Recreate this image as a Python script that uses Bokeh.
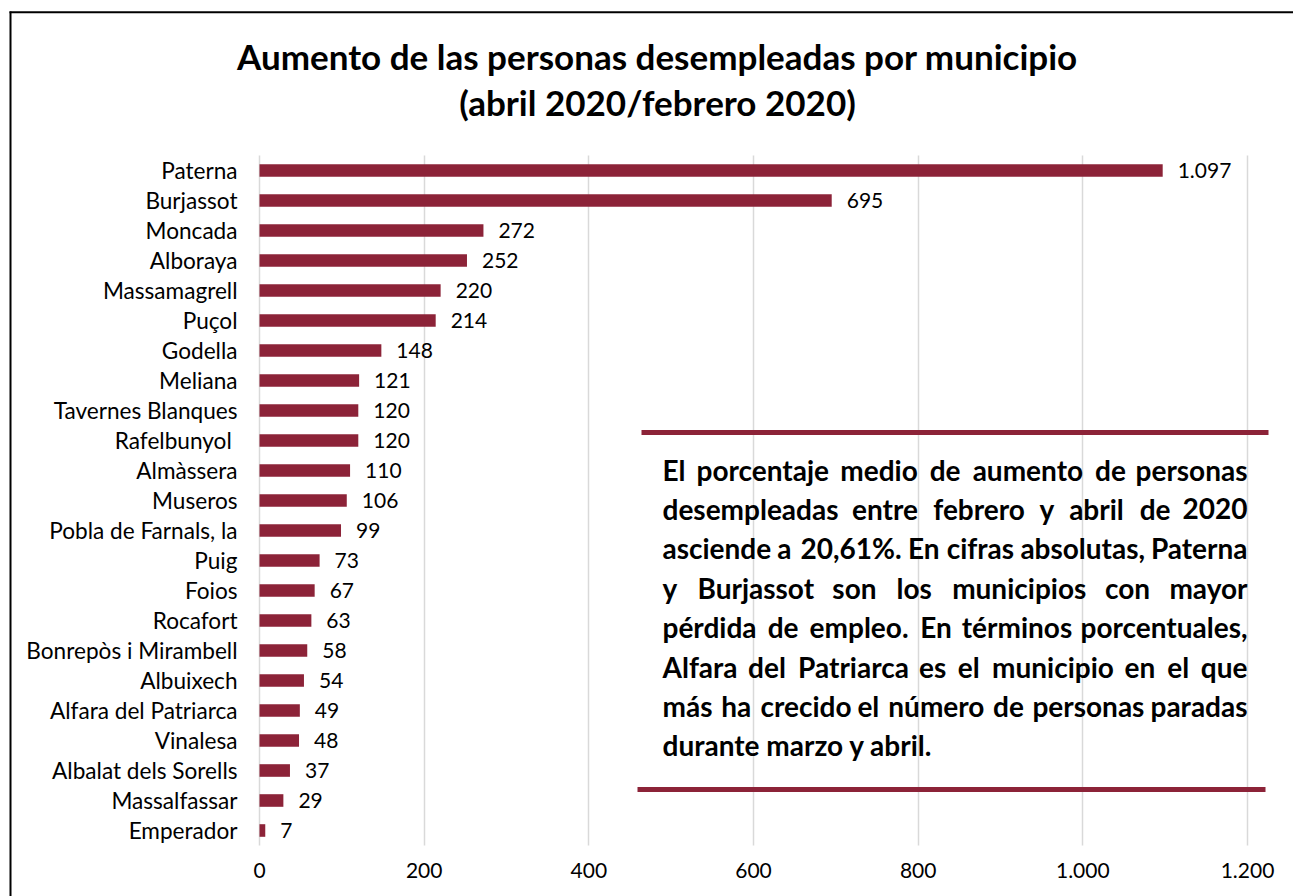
import unicodedata
from bokeh.plotting import figure
from bokeh.models import ColumnDataSource, Range1d, FixedTicker, LabelSet, Label
from bokeh.embed import file_html
from bokeh.resources import INLINE
from bokeh.core.properties import value

# ---------------- data ----------------
municipios = ["Paterna", "Burjassot", "Moncada", "Alboraya", "Massamagrell", "Puçol",
              "Godella", "Meliana", "Tavernes Blanques", "Rafelbunyol ", "Almàssera",
              "Museros", "Pobla de Farnals, la", "Puig", "Foios", "Rocafort",
              "Bonrepòs i Mirambell", "Albuixech", "Alfara del Patriarca", "Vinalesa",
              "Albalat dels Sorells", "Massalfassar", "Emperador"]
aumento = [1097, 695, 272, 252, 220, 214, 148, 121, 120, 120, 110, 106, 99, 73, 67,
           63, 58, 54, 49, 48, 37, 29, 7]
x_ticks = [0, 200, 400, 600, 800, 1000, 1200]
x_tick_labels = ["0", "200", "400", "600", "800", "1.000", "1.200"]
title_lines = ["Aumento de las personas desempleadas por municipio",
               "(abril 2020/febrero 2020)"]
note_lines = [
    "El porcentaje medio de aumento de personas",
    "desempleadas entre febrero y abril de 2020",
    "asciende a 20,61%. En cifras absolutas, Paterna",
    "y Burjassot son los municipios con mayor",
    "pérdida de empleo. En términos porcentuales,",
    "Alfara del Patriarca es el municipio en el que",
    "más ha crecido el número de personas paradas",
    "durante marzo y abril.",
]

# ---------------- style / layout (page pixels) ----------------
BAR = "#8c2338"
GRID = "#d9d9d9"
FONT = "Lato"
LABEL_PX = 22.6
NUM_PX = 21
TITLE_PX = 35
NOTE_PX = 28

W, H = 1293, 896                 # canvas = frame, at page (0, 0)
ZERO_PX, TICK1200_PX = 259, 1247  # x = 0 and x = 1200
BAR_TOP, BAR_BOT = 155, 845       # extent of the category band
n = len(municipios)
ROW_PX = (BAR_BOT - BAR_TOP) / n
X_PER_PX = 1200.0 / (TICK1200_PX - ZERO_PX)


def xd(px):
    return (px - ZERO_PX) * X_PER_PX


def yd(py):
    return (py - BAR_TOP) / ROW_PX - 0.5


# approximate bold advance widths (em) for justification
CW = dict(a=.494, b=.537, c=.419, d=.537, e=.503, f=.316, g=.472, h=.537, i=.246,
          j=.271, k=.48, l=.246, m=.813, n=.537, o=.538, p=.537, q=.537, r=.355,
          s=.399, t=.347, u=.537, v=.473, w=.715, x=.459, y=.474, z=.397)
CW.update({"A": .606, "B": .561, "E": .488, "P": .517, ".": .258, ",": .258,
           "%": .75, " ": .226})
for dgt in "0123456789":
    CW[dgt] = .53
RATIO = 1.04


def word_px(w):
    tot = 0.0
    for ch in w:
        base = unicodedata.normalize("NFD", ch)[0]
        tot += CW.get(base, .5)
    return tot * NOTE_PX * RATIO


p = figure(width=W, height=H, output_backend="svg", toolbar_location=None,
           x_range=Range1d(xd(0), xd(W)), y_range=Range1d(yd(H), yd(0)),
           min_border_left=0, min_border_top=0, min_border_right=0, min_border_bottom=0)
p.outline_line_color = None
p.background_fill_color = "white"
p.border_fill_color = "white"

p.xgrid.ticker = FixedTicker(ticks=x_ticks)
p.xgrid.grid_line_color = GRID
p.xgrid.grid_line_width = 1.5
p.xgrid.cross_bounds = (-0.5, n - 0.5)
p.ygrid.visible = False

p.xaxis.fixed_location = n - 0.5
p.yaxis.fixed_location = 0
p.xaxis.ticker = FixedTicker(ticks=x_ticks)
p.xaxis.major_label_overrides = {t: l for t, l in zip(x_ticks, x_tick_labels)}
p.xaxis.major_label_text_font_size = f"{NUM_PX}px"
p.yaxis.ticker = FixedTicker(ticks=list(range(n)))
p.yaxis.major_label_overrides = {i: m for i, m in enumerate(municipios)}
p.yaxis.major_label_text_font_size = f"{LABEL_PX}px"
for ax in (p.xaxis, p.yaxis):
    ax.axis_line_color = None
    ax.major_tick_line_color = None
    ax.minor_tick_line_color = None
    ax.major_tick_out = 0
    ax.major_tick_in = 0
    ax.major_label_text_font = FONT
    ax.major_label_text_color = "#000000"
p.xaxis.major_label_standoff = 17
p.yaxis.major_label_standoff = 22

# chart border (left and top edges visible in the window)
p.segment(x0=[xd(10), xd(9)], x1=[xd(10), xd(W + 5)], y0=[yd(11), yd(11.8)],
          y1=[yd(H + 5), yd(11.8)], line_width=2, line_color="#000000")

src = ColumnDataSource(dict(
    y=list(range(n)), v=aumento,
    label=[f"{v:,}".replace(",", ".") for v in aumento]))
p.hbar(y="y", left=0, right="v", height=0.42, source=src, fill_color=BAR, line_color=None)
p.add_layout(LabelSet(x="v", y="y", text="label", source=src, x_offset=15,
                      text_baseline="middle", text_font=value(FONT),
                      text_font_size=value(f"{NUM_PX}px"), text_color="#000000"))

# title
for txt, py in zip(title_lines, (55, 101)):
    p.add_layout(Label(x=xd(657), y=yd(py), text=txt, text_align="center",
                       text_baseline="middle", text_font=FONT, text_font_style="bold",
                       text_font_size=f"{TITLE_PX}px", text_color="#000000"))

# annotation rules
p.segment(x0=[xd(641), xd(637)], x1=[xd(1268), xd(1265)], y0=[yd(432), yd(789)],
          y1=[yd(432), yd(789)], line_width=5, line_color=BAR, line_cap="butt")

# justified note
NL, NR = 662, 1247
for k, line in enumerate(note_lines):
    py = 469 + k * 39.4
    words = line.split()
    if k == len(note_lines) - 1:
        p.add_layout(Label(x=xd(NL), y=yd(py), text=line, text_align="left",
                           text_baseline="middle", text_font=FONT, text_font_style="bold",
                           text_font_size=f"{NOTE_PX}px", text_color="#000000"))
        continue
    widths = [word_px(w) for w in words]
    gap = (NR - NL - sum(widths)) / (len(words) - 1)
    xpos = NL
    for j, w in enumerate(words):
        last = j == len(words) - 1
        p.add_layout(Label(x=xd(NR if last else xpos), y=yd(py), text=w,
                           text_align="right" if last else "left",
                           text_baseline="middle", text_font=FONT, text_font_style="bold",
                           text_font_size=f"{NOTE_PX}px", text_color="#000000"))
        xpos += widths[j] + gap

open("out.html", "w").write(file_html(p, INLINE))
